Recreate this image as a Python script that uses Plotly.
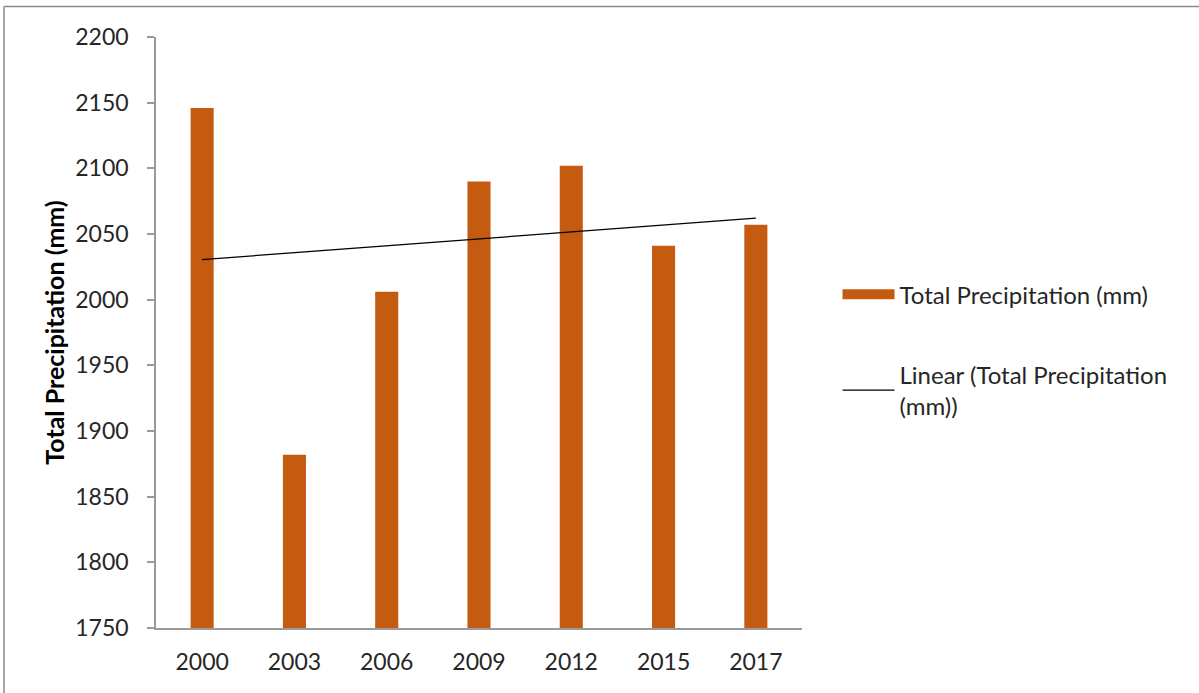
import numpy as np
import plotly.graph_objects as go

years = ["2000", "2003", "2006", "2009", "2012", "2015", "2017"]
precip = [2146, 1882, 2006, 2090, 2102, 2041, 2057]

# Excel-style linear trendline over category index
idx = np.arange(1, len(years) + 1)
slope, intercept = np.polyfit(idx, precip, 1)
trend = [slope * i + intercept for i in idx]

FONT = "Lato"
TXT = "#262626"
BAR = "#C55A11"

fig = go.Figure()
fig.add_trace(go.Bar(
    x=years, y=precip, name="Total Precipitation (mm)",
    marker=dict(color=BAR, line=dict(width=0)),
    showlegend=False,
))
# legend-only entry giving an Excel-like wide swatch
fig.add_trace(go.Scatter(
    x=[years[0]], y=[None], mode="lines",
    name="Total Precipitation (mm)",
    line=dict(color=BAR, width=13),
    legendgroup="a", hoverinfo="skip",
))
fig.add_trace(go.Scatter(
    x=years, y=trend, mode="lines",
    name="Linear (Total Precipitation<br>(mm))",
    line=dict(color="black", width=1.2),
    legendgroup="b",
))

fig.update_layout(
    width=1199, height=693,
    margin=dict(l=156, r=397, t=37, b=65),
    paper_bgcolor="white", plot_bgcolor="white",
    bargap=0.75,
    font=dict(family=FONT, size=23, color=TXT),
    xaxis=dict(
        type="category", showline=True, linecolor="#9a9a9a", linewidth=1.5,
        ticks="", showgrid=False, tickfont=dict(size=23, color=TXT),
        ticklabelstandoff=13,
    ),
    yaxis=dict(
        range=[1750, 2200], dtick=50, showgrid=False, zeroline=False,
        showline=True, linecolor="#9a9a9a", linewidth=1.5,
        ticks="outside", ticklen=7, tickcolor="#9a9a9a", tickwidth=1.5,
        tickfont=dict(size=23, color=TXT), ticklabelstandoff=14,
        title=dict(text="<b>Total Precipitation (mm)</b>", font=dict(size=25, color="black"), standoff=4),
    ),
    legend=dict(
        x=1.055, y=0.47, xanchor="left", yanchor="middle",
        font=dict(size=24, color=TXT), tracegroupgap=46, itemwidth=52,
        bgcolor="rgba(0,0,0,0)",
    ),
    shapes=[
        dict(type="line", xref="paper", yref="paper",
             x0=(4 - 156) / 646, x1=(4 - 156) / 646,
             y0=(628 - 6.5) / 591, y1=(628 - 700) / 591,
             line=dict(color="#8a8a8a", width=1.5)),
        dict(type="line", xref="paper", yref="paper",
             x0=(4 - 156) / 646, x1=(1210 - 156) / 646,
             y0=(628 - 6.5) / 591, y1=(628 - 6.5) / 591,
             line=dict(color="#8a8a8a", width=1.5)),
    ],
)

fig.write_html("out.html")
